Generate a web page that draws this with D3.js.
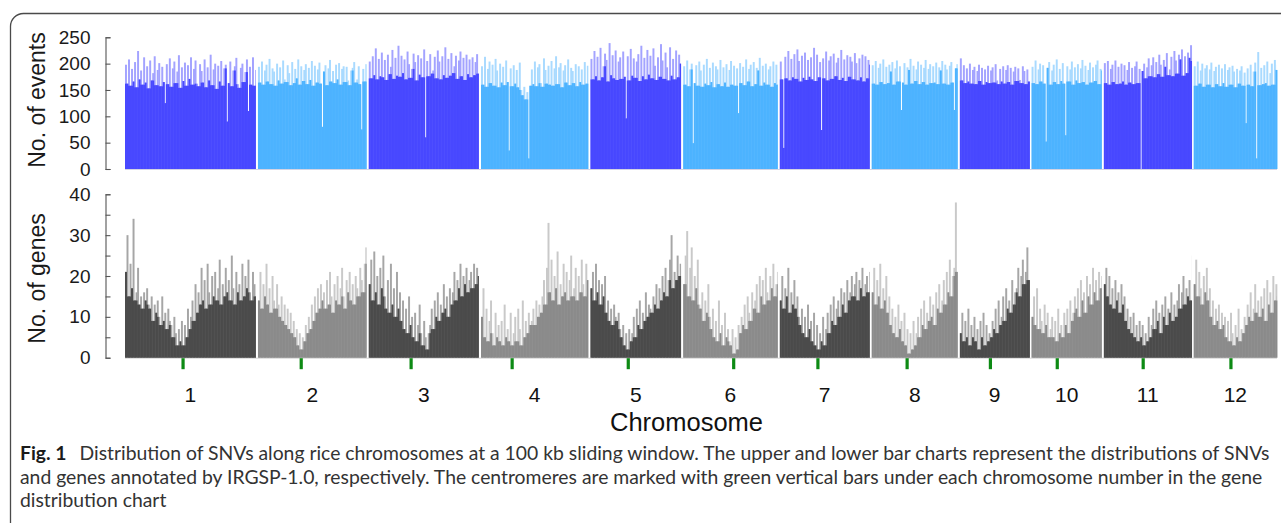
<!DOCTYPE html>
<html><head><meta charset="utf-8">
<script src="https://cdn.jsdelivr.net/npm/d3@7"></script>
<style>body{margin:0;background:#fff}svg{display:block}</style>
</head><body>
<svg id="c" width="1281" height="523"></svg>
<script>
// ---------------- DATA ----------------
const chromosomes = ["1","2","3","4","5","6","7","8","9","10","11","12"];
const chromLengthsMb = [43.27, 35.94, 36.41, 35.50, 29.96, 31.25, 29.70, 28.44, 23.01, 23.21, 29.02, 27.53];
const centromeresMb = [19.2, 14.3, 14.0, 10.3, 12.5, 16.7, 12.6, 11.7, 10.1, 8.5, 13.0, 12.3];
const binSizeMb = 0.5;
const eventTicks = [0, 50, 100, 150, 200, 250];
const geneTicks = [0, 5, 10, 15, 20, 25, 30, 35, 40];
const xTitle = "Chromosome";
const eventsTitle = "No. of events";
const genesTitle = "No. of genes";

// SNV events per 0.5 Mb bin, one array per chromosome
const eventsPerBin = [
 [198,162,208,158,190,166,203,155,224,170,187,160,212,164,195,153,206,168,182,214,159,188,201,157,194,165,125,199,161,210,156,191,204,163,185,216,154,193,167,202,158,197,171,212,160,190,206,162,157,199,186,164,208,155,193,168,217,159,189,200,152,196,166,205,158,191,198,90,163,204,157,187,195,211,161,154,192,200,165,184,208,110,194,160,212,158,188],
 [194,164,204,160,187,198,166,209,161,191,185,158,200,168,193,162,206,170,165,197,182,159,203,163,190,172,208,160,195,167,188,199,161,192,169,205,158,196,164,189,202,162,80,185,197,159,191,207,166,186,163,198,170,201,160,190,195,165,194,168,159,187,192,203,164,170,195,161,75,190,166,199],
 [204,172,214,178,229,170,209,176,221,174,207,169,217,180,194,226,171,211,177,234,175,215,182,208,170,223,199,173,190,219,203,168,216,179,210,174,227,60,205,176,218,181,187,213,172,225,204,170,214,178,231,173,209,177,220,182,195,215,171,206,223,176,211,169,217,180,208,174,212,178,203,218,181],
 [195,160,213,156,190,204,163,198,158,209,187,155,200,164,194,159,206,165,35,191,157,197,162,188,155,202,150,140,156,132,146,20,158,189,161,204,157,193,199,163,156,210,188,162,196,160,205,158,191,214,161,193,201,155,187,197,164,208,159,192,186,163,199,157,195,165,189,160,203,162,196],
 [209,170,224,176,213,168,230,174,195,219,207,166,239,178,216,172,225,169,204,212,171,223,175,96,214,168,228,177,210,173,204,218,167,234,176,211,170,226,179,215,172,229,196,169,212,175,237,206,171,221,193,168,231,177,209,170,225,174,217,200],
 [195,160,206,157,189,200,49,163,197,158,204,187,156,198,162,209,159,192,165,202,155,195,189,161,207,157,193,164,199,156,188,205,160,196,158,191,106,201,163,194,159,208,166,190,198,157,203,161,192,187,211,158,196,164,200,160,189,195,156,204,163,198,160],
 [204,170,40,213,172,224,168,209,174,218,171,227,205,166,215,173,221,169,207,175,212,170,230,167,217,174,203,74,210,172,223,168,206,214,171,219,176,202,211,169,226,173,208,167,216,175,213,204,170,220,201,168,210,174,217,166,214,172,207,198],
 [197,162,205,160,192,200,165,208,161,194,163,198,185,203,160,191,206,166,195,112,164,201,160,193,188,209,162,196,167,189,204,161,198,165,192,207,160,190,199,163,195,164,202,161,193,187,205,162,198,189,160,196,203,164,112,191,199],
 [210,168,197,163,191,166,200,162,188,194,161,186,198,167,192,160,189,165,196,163,187,193,164,199,168,161,190,166,195,162,188,197,165,192,160,185,194,167,191,169,163,195,186,161,189,166,198],
 [194,163,206,161,189,200,166,197,162,52,192,203,160,187,198,165,208,161,190,167,201,162,64,195,166,189,204,160,193,168,199,163,191,207,165,196,160,188,202,164,193,167,198,206,161,190,187],
 [201,163,205,160,190,198,165,206,161,194,162,200,166,197,160,188,203,164,192,161,195,204,163,190,0,186,200,172,193,210,176,197,212,174,203,180,217,198,175,207,194,220,178,189,213,176,224,206,181,217,208,227,177,214,182,221,211,235,205],
 [195,158,204,162,187,200,156,191,197,160,189,202,155,186,194,161,198,157,191,163,199,156,188,193,160,196,185,155,190,162,187,195,158,183,87,191,160,198,157,185,202,20,222,159,192,161,197,163,204,158,182,200,160,207,188,198]
];

// Annotated genes per 0.5 Mb bin, one array per chromosome
const genesPerBin = [
 [21,30,15,23,17,34,14,16,22,13,15,12,16,14,17,13,12,15,9,13,11,14,10,8,15,9,11,7,12,9,8,5,10,6,3,7,4,9,3,8,5,12,7,10,14,9,18,11,16,13,22,14,19,12,23,16,13,20,15,21,14,17,24,13,18,15,22,16,19,14,25,17,13,21,16,18,14,23,15,20,17,24,16,14,21,18,15],
 [14,21,12,18,15,23,13,17,11,20,14,12,18,13,10,15,9,13,8,12,7,11,6,9,5,7,3,6,2,5,4,8,6,10,7,13,9,15,11,17,12,18,14,16,12,19,13,21,15,11,18,14,20,13,17,22,15,12,19,16,21,14,18,13,20,17,15,22,19,16,23,27],
 [18,24,14,26,16,20,13,22,17,25,15,12,19,11,23,13,17,10,21,12,16,9,14,7,12,6,15,8,10,5,11,4,8,13,6,3,9,5,2,6,8,12,7,14,10,16,9,13,11,18,12,15,10,17,13,16,21,14,19,17,23,15,20,18,22,16,19,21,17,23,18,22,20],
 [10,17,5,12,4,9,14,6,3,11,5,8,4,9,3,13,5,7,4,11,3,6,10,4,12,7,3,14,5,9,6,11,8,9,12,8,14,10,13,11,15,19,13,22,33,16,24,14,20,17,26,13,18,15,23,16,21,14,19,25,15,17,22,14,20,16,24,18,15,23,19],
 [17,21,14,23,16,19,13,18,15,20,11,14,9,12,8,13,10,9,11,7,5,8,3,6,2,7,4,6,10,5,12,8,14,7,11,9,16,10,13,12,11,15,13,18,12,17,14,20,16,22,15,19,24,30,17,21,19,25,20,23],
 [18,25,31,15,22,27,14,20,17,24,13,12,16,9,14,11,18,10,7,12,5,9,4,14,6,8,3,11,5,7,4,3,7,1,5,2,8,6,10,8,13,7,15,11,9,16,12,14,18,11,20,15,19,13,22,16,14,20,17,23,15,18,21],
 [14,20,12,17,15,22,11,16,13,19,12,15,10,8,12,6,10,5,13,7,9,4,11,3,8,2,6,4,10,3,7,11,6,13,9,15,8,12,14,10,17,13,16,11,19,14,16,20,15,18,21,14,19,17,22,15,18,20,16,21],
 [16,22,13,19,15,23,12,17,14,20,11,15,8,12,6,10,5,13,7,9,4,11,3,7,1,6,2,9,3,6,10,5,12,8,14,7,11,9,15,10,13,8,16,12,18,11,14,19,13,21,16,24,15,20,22,38,21],
 [6,11,4,9,5,12,3,8,5,10,4,7,2,9,5,11,3,8,4,6,5,9,7,12,6,14,8,10,15,9,17,12,14,11,19,13,16,17,22,15,20,24,18,21,27,19,23],
 [10,15,8,17,7,12,9,6,13,8,11,5,7,10,5,9,4,12,6,8,5,11,8,12,6,14,9,11,15,12,17,10,19,14,16,11,20,15,18,13,22,16,19,14,21,17,20],
 [18,22,15,20,13,17,12,19,14,16,11,18,13,15,9,12,7,10,6,11,5,8,4,9,5,8,3,6,4,10,5,8,12,7,14,9,11,6,13,10,15,8,12,11,16,9,13,10,14,18,12,16,20,13,17,15,19,14,25],
 [18,24,15,21,17,13,20,16,22,14,17,10,14,8,12,9,13,7,11,8,10,5,9,4,11,6,3,8,5,12,4,7,6,10,8,13,10,16,9,12,18,11,14,10,15,12,17,9,19,13,16,11,20,14,18,15]
];

const captionBold = "Fig. 1";
const captionLines = [
 "Distribution of SNVs along rice chromosomes at a 100 kb sliding window. The upper and lower bar charts represent the distributions of SNVs",
 "and genes annotated by IRGSP-1.0, respectively. The centromeres are marked with green vertical bars under each chromosome number in the gene",
 "distribution chart"
];

// ---------------- LAYOUT ----------------
const svg = d3.select("#c");
const gapMb = 0.7;
const offsets = [];
let acc = 0;
chromLengthsMb.forEach((L, i) => { offsets.push(acc); acc += L + (i < chromLengthsMb.length - 1 ? gapMb : 0); });
const totalMb = acc;

const x = d3.scaleLinear().domain([0, totalMb]).range([125, 1277]);
const yE = d3.scaleLinear().domain([0, 250]).range([169, 37.3]);
const yG = d3.scaleLinear().domain([0, 40]).range([357.7, 194.3]);

// [solid, tip] colours for alternating chromosomes
const evColors = [["#4848ff", "#a3a3ff"], ["#4db3ff", "#a9daff"]];
const gnColors = [["#4b4b4b", "#a6a6a6"], ["#8b8b8b", "#c9c9c9"]];

// solid part of each bar = lowest neighbour in a small window (isolated spikes drawn lighter);
// neighbours far below the local mean (single-bin dips) are ignored
function binsFor(series, win, floorFrac) {
  const out = [];
  series.forEach((arr, c) => {
    arr.forEach((v, i) => {
      const s = offsets[c] + i * binSizeMb;
      const e = offsets[c] + Math.min((i + 1) * binSizeMb, chromLengthsMb[c]);
      const lo = Math.max(0, i - win), hi = Math.min(arr.length - 1, i + win);
      const mean = d3.mean(arr.slice(lo, hi + 1));
      let solid = v;
      for (let k = lo; k <= hi; k++) {
        if (k === i) continue;
        if (arr[k] >= floorFrac * mean) solid = Math.min(solid, arr[k]);
      }
      out.push({ c, s, e, v, solid, last: i === arr.length - 1 });
    });
  });
  return out;
}

// border
svg.append("rect").attr("x", 10.5).attr("y", 13.5).attr("width", 1320).attr("height", 600)
  .attr("rx", 13).attr("fill", "none").attr("stroke", "#4a4a4a").attr("stroke-width", 1.3);

// baselines
svg.append("line").attr("x1", x(0)).attr("x2", x(totalMb)).attr("y1", yE(0) + 0.5).attr("y2", yE(0) + 0.5)
  .attr("stroke", "#d4d4e4").attr("stroke-width", 1);
svg.append("line").attr("x1", x(0)).attr("x2", x(totalMb)).attr("y1", yG(0) + 0.5).attr("y2", yG(0) + 0.5)
  .attr("stroke", "#d6d6d6").attr("stroke-width", 1);

function drawBars(data, y, colors) {
  const g = svg.append("g");
  const w = d => x(d.e) - x(d.s) + (d.last ? 0 : 0.45);
  g.append("g").selectAll("rect").data(data).join("rect")
    .attr("x", d => x(d.s)).attr("width", w)
    .attr("y", d => y(d.v)).attr("height", d => y(0) - y(d.v))
    .attr("fill", d => colors[d.c % 2][1]);
  g.append("g").selectAll("rect").data(data).join("rect")
    .attr("x", d => x(d.s)).attr("width", w)
    .attr("y", d => y(d.solid)).attr("height", d => y(0) - y(d.solid))
    .attr("fill", d => colors[d.c % 2][0]);
}
drawBars(binsFor(eventsPerBin, 1, 0.8), yE, evColors);
drawBars(binsFor(genesPerBin, 1, 0), yG, gnColors);

// axes
const sans = "'Liberation Sans', Arial, sans-serif";
function styleAxis(g) {
  g.selectAll("path,line").attr("stroke", "#555").attr("stroke-width", 1.1);
  g.selectAll("text").attr("font-family", sans).attr("font-size", 19).attr("fill", "#1a1a1a");
}
svg.append("g").attr("transform", "translate(105.5,0)")
  .call(d3.axisLeft(yE).tickValues(eventTicks).tickSizeInner(-5).tickSizeOuter(-5).tickPadding(15))
  .call(styleAxis);
svg.append("g").attr("transform", "translate(105.5,0)")
  .call(d3.axisLeft(yG).tickValues(geneTicks).tickFormat(d => d % 10 === 0 ? d : "")
    .tickSizeInner(-5).tickSizeOuter(-5).tickPadding(15))
  .call(styleAxis);

// axis titles
svg.append("text").attr("transform", "translate(44.5,100) rotate(-90)").attr("text-anchor", "middle")
  .attr("font-family", sans).attr("font-size", 23).attr("fill", "#1a1a1a").text(eventsTitle);
svg.append("text").attr("transform", "translate(44.5,278.5) rotate(-90)").attr("text-anchor", "middle")
  .attr("font-family", sans).attr("font-size", 23).attr("fill", "#1a1a1a").text(genesTitle);

// centromeres
svg.append("g").selectAll("rect").data(centromeresMb).join("rect")
  .attr("x", (d, i) => x(offsets[i] + d) - 1.6).attr("width", 3.2)
  .attr("y", yG(0) + 0.5).attr("height", 11).attr("fill", "#0d8a14");

// chromosome labels
svg.append("g").selectAll("text").data(chromosomes).join("text")
  .attr("x", (d, i) => x(offsets[i] + chromLengthsMb[i] / 2)).attr("y", 402)
  .attr("text-anchor", "middle").attr("font-family", sans).attr("font-size", 21).attr("fill", "#111")
  .text(d => d);
svg.append("text").attr("x", 686.5).attr("y", 431).attr("text-anchor", "middle")
  .attr("font-family", sans).attr("font-size", 25.5).attr("fill", "#111").text(xTitle);

// caption
const cap = svg.append("g").attr("font-family", "Lato, 'Open Sans', sans-serif").attr("fill", "#333");
const ys = [460, 484, 507];
const boldGap = 13;
const lines = captionLines.map((t, i) => {
  const tx = cap.append("text").attr("x", 20).attr("y", ys[i]).attr("font-size", 18);
  if (i === 0) {
    tx.append("tspan").attr("font-weight", "bold").attr("fill", "#1a1a1a").text(captionBold);
    tx.append("tspan").attr("dx", boldGap).text(t);
  } else tx.text(t);
  return tx;
});
const w1 = lines[0].node().getComputedTextLength();
const fs = 18 * (1250 - boldGap) / w1;
lines.forEach(l => l.attr("font-size", fs));
</script>
</body></html>
